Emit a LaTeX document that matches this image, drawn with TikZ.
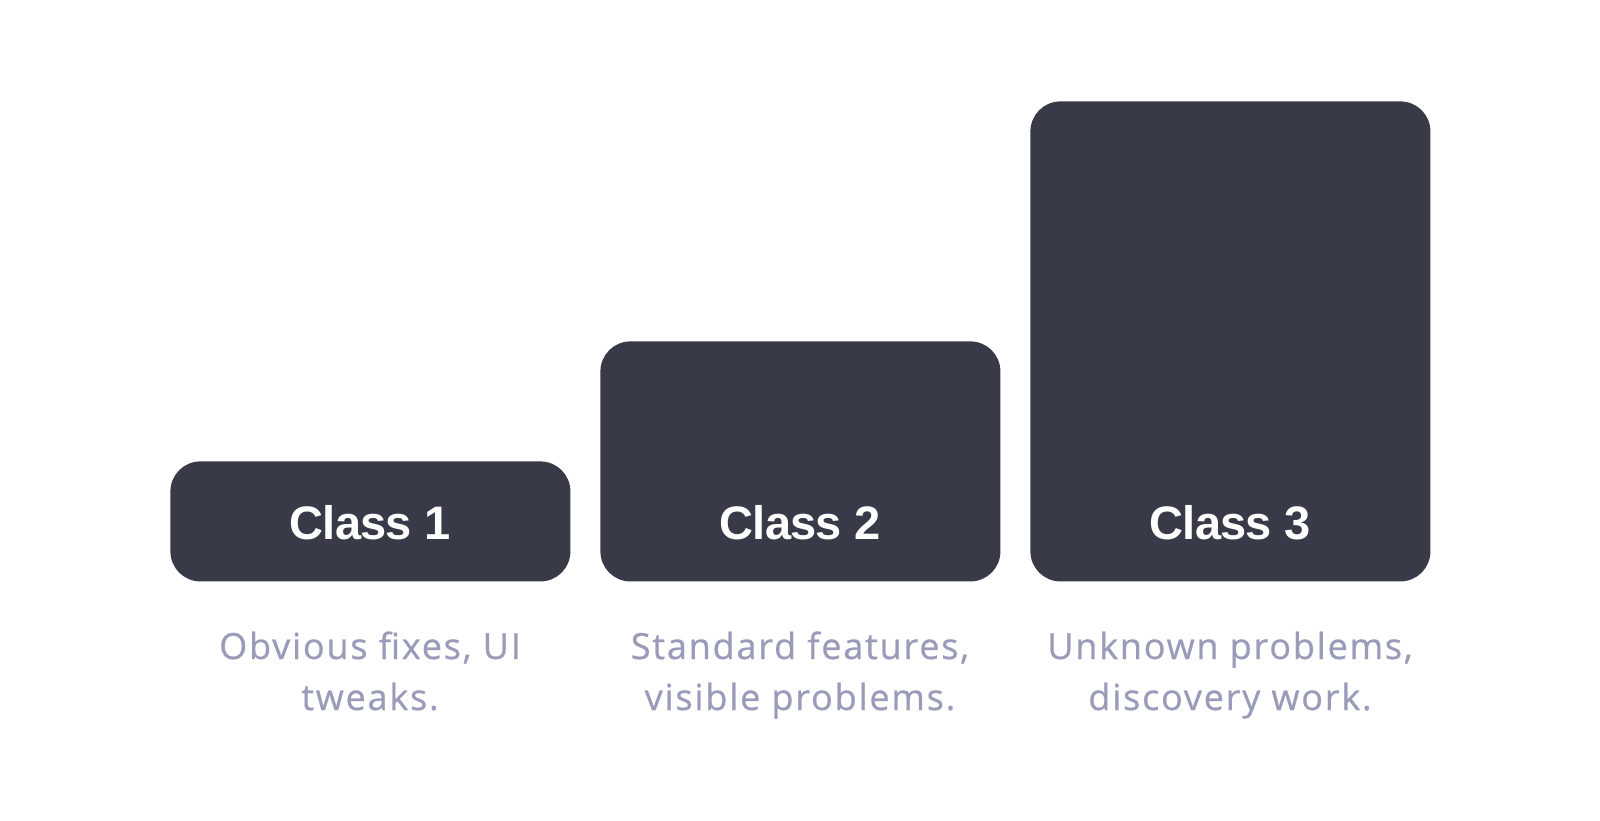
\documentclass[tikz,border=0pt]{standalone}
\usepackage{fontspec}
\newfontfamily\titlefont[LetterSpace=-1.5]{Liberation Sans Bold}
\newfontfamily\capfont[LetterSpace=5,FakeBold=0.6]{Open Sans}
\definecolor{boxcol}{HTML}{393A48}
\definecolor{capcol}{HTML}{9A9BB9}
\begin{document}
\begin{tikzpicture}[x=0.5pt,y=-0.5pt,
  box/.style={fill=boxcol, draw=none, rounded corners=15pt, inner sep=0pt, minimum width=200pt},
  title/.style={text=white, inner sep=0pt, anchor=base, font=\titlefont\fontsize{23.5pt}{28pt}\selectfont},
  caption/.style={text=capcol, inner sep=0pt, anchor=base, align=center, font=\capfont\fontsize{18pt}{25.5pt}\selectfont}]
\useasboundingbox (0,0) rectangle (1600,820);
\fill[white] (0,0) rectangle (1600,820);
\node[box, minimum height=60pt, anchor=north west] (b1) at (170,461) {};
\node[box, minimum height=120pt, anchor=north west] (b2) at (600,341) {};
\node[box, minimum height=240pt, anchor=north west] (b3) at (1030,101) {};
\node[title] (t1) at (370,539) {Class 1};
\node[title] (t2) at (800,539) {Class 2};
\node[title] (t3) at (1230,539) {Class 3};
\node[caption] (c1) at (370,710) {Obvious fixes, UI\\tweaks.};
\node[caption] (c2) at (800,710) {Standard features,\\visible problems.};
\node[caption] (c3) at (1230,710) {Unknown problems,\\discovery work.};
\end{tikzpicture}
\end{document}
